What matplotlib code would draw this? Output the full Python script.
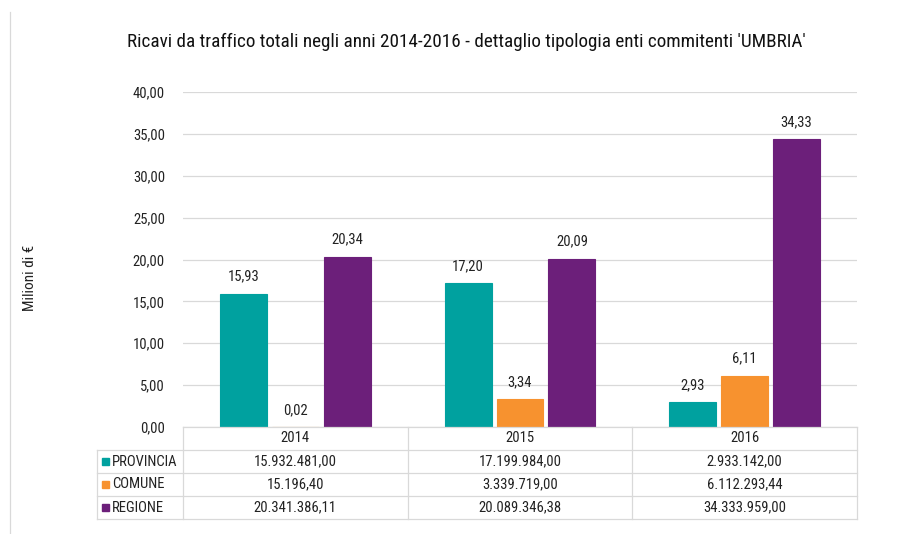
import numpy as np
import matplotlib
matplotlib.use('Agg')
from matplotlib import pyplot as plt
from matplotlib.lines import Line2D
from matplotlib.patches import Rectangle

years = ['2014', '2015', '2016']
series = ['PROVINCIA', 'COMUNE', 'REGIONE']
provincia = [15932481.00, 17199984.00, 2933142.00]
comune = [15196.40, 3339719.00, 6112293.44]
regione = [20341386.11, 20089346.38, 34333959.00]
colors = ['#00A19F', '#F7922F', '#6C1F7A']
yticks = [0, 5, 10, 15, 20, 25, 30, 35, 40]

plt.rcParams['font.family'] = ['Roboto Condensed', 'Liberation Sans Narrow', 'DejaVu Sans']


def it_fmt(v, dec=2):
    s = f'{v:,.{dec}f}'
    return s.replace(',', 'X').replace('.', ',').replace('X', '.')


W, H = 903, 534
fig = plt.figure(figsize=(W / 100, H / 100), dpi=100)


def fx(px):
    return px / W


def fy(py):
    return 1 - py / H


left, right, top, bottom = 183, 857, 92, 427
ax = fig.add_axes([fx(left), fy(bottom), fx(right - left), fy(top) - fy(bottom)])

data = [provincia, comune, regione]
x = np.arange(len(years)) + 0.5
bw = 47 / 225
step = 52 / 225
for i, (vals, c) in enumerate(zip(data, colors)):
    mil = np.array(vals) / 1e6
    pos = x + (i - 1) * step
    ax.bar(pos, mil, bw, color=c, edgecolor=c, linewidth=0.8, zorder=3)
    for p, m in zip(pos, mil):
        ax.text(p, m + 1.2, it_fmt(m), ha='center', va='bottom',
                fontsize=10.5, color='#222222')

ax.set_xlim(0, len(years))
ax.set_ylim(0, 40)
ax.set_yticks(yticks)
ax.set_yticklabels([it_fmt(t) for t in yticks], fontsize=10.5, color='#222222')
ax.set_xticks([])
ax.tick_params(axis='y', length=0, pad=13)
ax.grid(axis='y', color='#D9D9D9', linewidth=0.9, zorder=0)
for s in ax.spines.values():
    s.set_visible(False)

fig.text(fx(30), fy(278), 'Milioni di €', rotation=90, ha='center', va='center',
         fontsize=11, color='#222222')

fig.text(fx(466), fy(42), "Ricavi da traffico totali negli anni 2014-2016 - dettaglio tipologia enti commitenti 'UMBRIA'",
         ha='center', va='center', fontsize=13.8, color='#111111')

# table below the axes
lc = '#D9D9D9'
rows = [427, 450, 473, 496, 519]
tab_left = 97
colw = (right - left) / len(years)


def hline(y, x0, x1):
    fig.add_artist(Line2D([fx(x0), fx(x1)], [fy(y), fy(y)], color=lc, lw=0.9))


def vline(xp, y0, y1):
    fig.add_artist(Line2D([fx(xp), fx(xp)], [fy(y0), fy(y1)], color=lc, lw=0.9))


hline(rows[0], left, right)
for r in rows[1:]:
    hline(r, tab_left, right)
vline(tab_left, rows[1], rows[-1])
for k in range(len(years) + 1):
    vline(left + k * colw, rows[0], rows[-1])

for k, yr in enumerate(years):
    fig.text(fx(left + (k + 0.5) * colw), fy((rows[0] + rows[1]) / 2), yr,
             ha='center', va='center', fontsize=10.5, color='#222222')

for j, (name, vals, c) in enumerate(zip(series, data, colors)):
    yc = (rows[j + 1] + rows[j + 2]) / 2
    fig.add_artist(Rectangle((fx(102), fy(yc + 3.5)), fx(7), fy(yc - 3.5) - fy(yc + 3.5),
                             color=c, transform=fig.transFigure))
    fig.text(fx(112), fy(yc), name, ha='left', va='center', fontsize=10.5, color='#222222')
    for k, v in enumerate(vals):
        fig.text(fx(left + (k + 0.5) * colw), fy(yc), it_fmt(v),
                 ha='center', va='center', fontsize=10.5, color='#222222')

# chart border on the left
fig.add_artist(Line2D([fx(10), fx(10)], [fy(12), fy(534)], color='#D9D9D9', lw=0.9))

fig.savefig('out.png', dpi=100)
